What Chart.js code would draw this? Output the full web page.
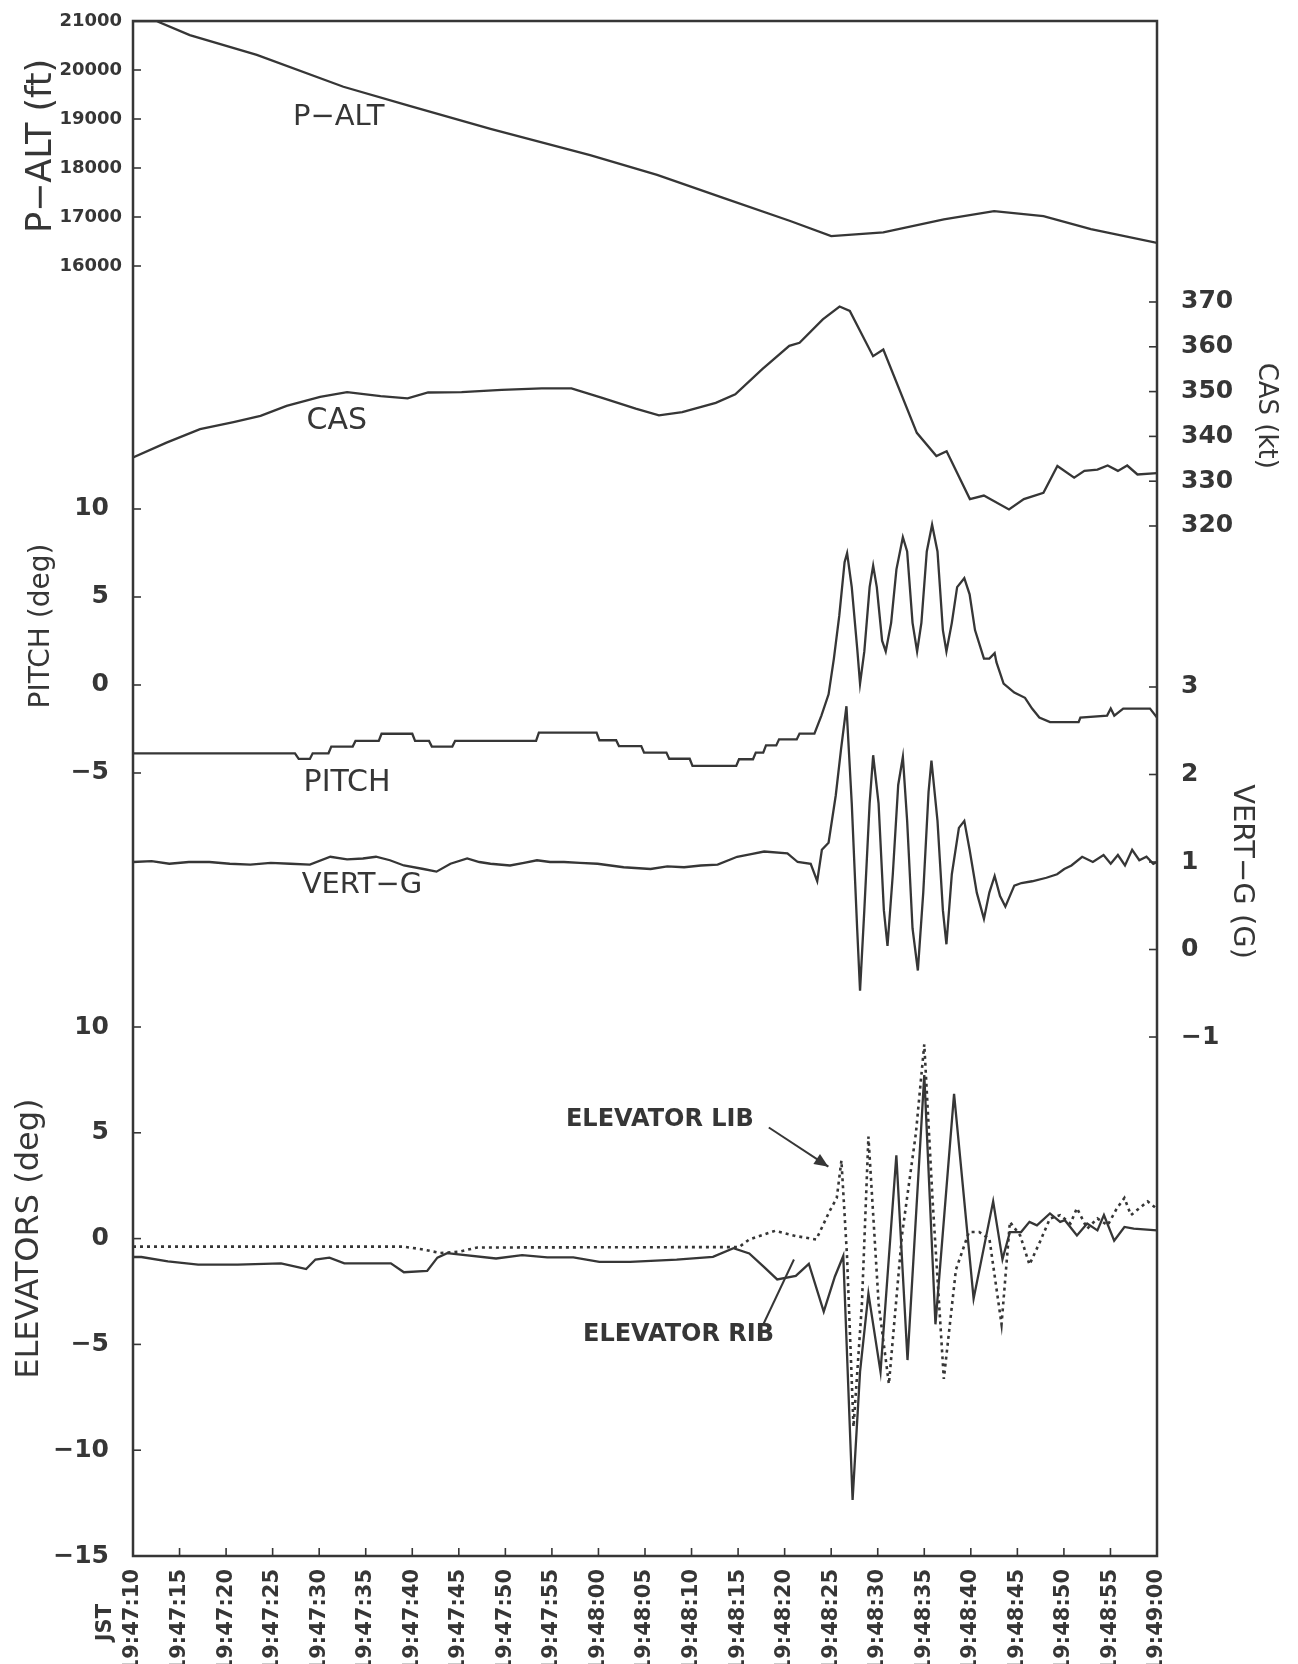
<!DOCTYPE html>
<html>
<head>
<meta charset="utf-8">
<script src="https://cdn.jsdelivr.net/npm/chart.js@4.4.1/dist/chart.umd.min.js"></script>
<style>
  html, body { margin: 0; padding: 0; background: #fff; }
  canvas { display: block; }
</style>
</head>
<body>
<canvas id="c" width="1298" height="1664"></canvas>
<script>
// ---------- DATA (seconds after 19:47:10) ----------
const timeTicks = [0,5,10,15,20,25,30,35,40,45,50,55,60,65,70,75,80,85,90,95,100,105,110];
const timeLabels = ['19:47:10','19:47:15','19:47:20','19:47:25','19:47:30','19:47:35','19:47:40','19:47:45','19:47:50','19:47:55','19:48:00','19:48:05','19:48:10','19:48:15','19:48:20','19:48:25','19:48:30','19:48:35','19:48:40','19:48:45','19:48:50','19:48:55','19:49:00'];

const altTicks = [16000,17000,18000,19000,20000,21000];
const casTicks = [320,330,340,350,360,370];
const pitchTicks = [-5,0,5,10];
const gTicks = [-1,0,1,2,3];
const elevTicks = [-15,-10,-5,0,5,10];

const altT = [0,2.5,6.1,13.3,22.6,29.7,38.4,49.1,56.3,63.4,70.6,75.0,80.6,87.1,92.5,97.8,102.9,110];
const altV = [21000,21000,20711,20309,19658,19268,18799,18262,17859,17389,16919,16610,16685,16953,17120,17020,16752,16470];

const casT = [0,3.6,7.2,10.8,13.7,16.5,20.1,23.0,26.6,29.5,31.7,35.3,39.6,43.9,47.1,50.4,54.0,56.5,59.0,62.6,64.7,67.6,70.5,71.6,74.1,75.9,77.0,79.5,80.6,84.2,86.3,87.4,89.9,91.4,94.1,95.7,97.8,99.3,101.1,102.2,103.6,104.7,105.8,106.8,107.9,110];
const casV = [335.3,338.6,341.6,343.2,344.6,346.8,348.8,349.9,349.0,348.5,349.8,349.9,350.4,350.7,350.7,348.6,346.2,344.7,345.4,347.5,349.4,355.0,360.2,360.9,366.1,369.0,368.0,357.9,359.4,340.8,335.6,336.7,326.0,326.8,323.7,326.0,327.4,333.4,330.8,332.3,332.6,333.5,332.3,333.5,331.5,331.8];

const pitchT = [0,17.4,17.8,19.0,19.3,21.0,21.3,23.6,23.9,26.4,26.7,30.0,30.3,31.8,32.1,34.3,34.6,43.3,43.6,49.8,50.1,51.9,52.2,54.6,54.9,57.3,57.6,59.8,60.1,64.8,65.1,66.6,66.9,67.7,68.0,69.1,69.4,71.3,71.6,73.2,73.95,74.72,75.29,75.87,76.44,76.71,77.21,77.79,78.10,78.56,79.13,79.51,79.90,80.47,80.86,81.44,82.01,82.70,83.16,83.74,84.23,84.69,85.27,85.84,86.42,87.00,87.38,87.96,88.53,89.30,89.87,90.45,91.41,91.99,92.56,92.75,93.52,94.67,95.82,96.58,97.36,98.51,101.58,101.77,104.64,105.03,105.41,106.37,109.25,110];
const pitchV = [-3.88,-3.88,-4.2,-4.2,-3.88,-3.88,-3.5,-3.5,-3.18,-3.18,-2.77,-2.77,-3.18,-3.18,-3.5,-3.5,-3.18,-3.18,-2.71,-2.71,-3.14,-3.14,-3.47,-3.47,-3.84,-3.84,-4.19,-4.19,-4.6,-4.6,-4.22,-4.22,-3.84,-3.84,-3.43,-3.43,-3.09,-3.09,-2.76,-2.76,-1.74,-0.53,1.5,3.94,6.98,7.49,5.56,2.11,0.08,1.91,5.56,6.78,5.56,2.52,1.91,3.53,6.57,8.4,7.59,3.53,1.91,3.53,7.59,9.11,7.59,3.12,1.91,3.53,5.56,6.07,5.15,3.12,1.5,1.5,1.81,1.3,0.08,-0.43,-0.73,-1.34,-1.85,-2.11,-2.11,-1.85,-1.74,-1.34,-1.74,-1.34,-1.34,-1.85];

const gT = [0,2.0,3.9,6.0,8.2,10.4,12.6,14.8,16.9,19.0,21.2,23.0,24.7,26.1,27.6,29.1,31.2,32.6,34.1,35.9,37.2,38.4,40.5,42.0,43.4,44.8,46.3,48.0,49.9,52.7,55.6,57.4,59.2,61.0,62.8,64.9,66.4,67.8,70.3,71.4,72.8,73.5,74.0,74.72,75.49,76.06,76.64,77.21,77.79,78.10,78.56,79.13,79.51,80.09,80.66,81.05,81.62,82.20,82.70,83.16,83.74,84.31,84.89,85.46,85.77,86.42,87.00,87.38,87.96,88.72,89.30,89.87,90.64,91.41,91.99,92.56,93.14,93.71,94.67,95.44,96.58,98.12,99.27,100.04,100.81,101.96,103.11,104.26,105.03,105.80,106.56,107.33,108.1,108.87,109.6,110];
const gV = [1.0,1.01,0.98,1.0,1.0,0.98,0.97,0.99,0.98,0.97,1.06,1.03,1.04,1.06,1.02,0.96,0.92,0.89,0.98,1.04,1.0,0.98,0.96,0.99,1.02,1.0,1.0,0.99,0.98,0.94,0.92,0.95,0.94,0.96,0.97,1.06,1.09,1.12,1.10,1.0,0.98,0.78,1.14,1.22,1.76,2.29,2.78,1.67,0.24,-0.47,0.45,1.67,2.22,1.67,0.45,0.04,0.86,1.88,2.20,1.47,0.24,-0.24,0.65,1.80,2.16,1.47,0.45,0.06,0.86,1.39,1.47,1.14,0.65,0.35,0.65,0.84,0.61,0.49,0.73,0.76,0.78,0.82,0.86,0.92,0.96,1.06,1.00,1.08,0.98,1.08,0.96,1.14,1.02,1.06,0.98,1.0];

const ribT = [0,0.9,3.75,7,11.25,15.9,17.7,18.6,19.6,21.1,22.7,27.7,29.1,31.6,32.7,33.75,39.0,41.8,44.5,47.3,50.1,53.4,58.4,62.3,64.5,66.2,67.8,69.2,71.2,72.6,74.2,75.4,76.3,77.3,78.1,79.0,80.3,82.0,83.2,85.0,86.2,88.2,90.3,92.4,93.4,94.2,95.4,96.3,97.1,98.5,99.6,100.1,101.4,102.5,103.6,104.3,105.4,106.5,107.5,110];
const ribV = [-0.87,-0.87,-1.08,-1.23,-1.23,-1.17,-1.35,-1.44,-0.99,-0.9,-1.17,-1.17,-1.59,-1.53,-0.9,-0.69,-0.94,-0.78,-0.89,-0.89,-1.1,-1.1,-0.99,-0.86,-0.45,-0.70,-1.35,-1.93,-1.76,-1.19,-3.45,-1.79,-0.82,-12.35,-6.3,-2.6,-6.3,3.94,-5.74,7.73,-4.05,6.84,-2.84,1.76,-0.98,0.31,0.31,0.79,0.63,1.19,0.79,0.87,0.15,0.71,0.39,1.11,-0.10,0.55,0.47,0.39];

const libT = [0,29,31,33,35,37,65.1,66.2,69.0,71.2,73.4,74.8,75.6,76.1,76.7,77.4,78.3,79.0,80.1,81.2,82.6,84.1,85.0,85.9,87.1,88.4,89.8,90.9,92.0,93.3,94.2,95.3,96.3,97.4,98.5,99.6,100.7,101.4,102.5,103.6,104.7,105.7,106.5,107.2,109.0,110];
const libV = [-0.38,-0.38,-0.5,-0.68,-0.62,-0.42,-0.4,-0.04,0.37,0.12,-0.04,1.27,1.92,3.69,-0.82,-8.9,-3.1,4.82,-3.1,-6.87,0.15,4.98,9.18,1.76,-6.63,-1.47,0.31,0.31,-0.02,-4.05,0.79,0.15,-1.23,-0.18,0.95,1.11,0.71,1.44,0.47,0.95,0.63,1.44,1.92,1.11,1.76,1.4];

// ---------- STYLE / LAYOUT ----------
const INK = '#363636';
const FAM = '"DejaVu Sans", "Liberation Sans", Arial, sans-serif';
const pts = (ts, vs) => ts.map((t, i) => ({ x: t, y: vs[i] }));
const fmt = v => String(v).replace('-', '\u2212');

function zeroFit(s) {
  if (s.isHorizontal()) { s.height = 0; } else { s.width = 0; }
  s.paddingTop = 0; s.paddingBottom = 0; s.paddingLeft = 0; s.paddingRight = 0;
}

function yScale(pos, min, max, tickVals, size, pad) {
  return {
    type: 'linear', position: pos, min: min, max: max,
    afterBuildTicks: s => { s.ticks = tickVals.map(v => ({ value: v })); },
    afterFit: zeroFit,
    grid: { display: false, drawTicks: false },
    border: { display: false },
    ticks: { padding: pad, color: INK, font: { family: FAM, size: size, weight: 'bold' }, callback: v => fmt(v) }
  };
}

const line = (data, axis, extra) => Object.assign({
  data: data, yAxisID: axis, borderColor: INK, borderWidth: 2.3,
  pointRadius: 0, tension: 0, fill: false
}, extra || {});

// annotations in data coordinates
const seriesLabels = [
  { text: 'P\u2212ALT', axis: 'yAlt', t: 22.1, v: 19040, size: 29, weight: 'normal' },
  { text: 'CAS', axis: 'yCas', t: 21.9, v: 343.4, size: 30, weight: 'normal' },
  { text: 'PITCH', axis: 'yPitch', t: 23.0, v: -5.57, size: 30, weight: 'normal' },
  { text: 'VERT\u2212G', axis: 'yG', t: 24.6, v: 0.73, size: 29, weight: 'normal' },
  { text: 'ELEVATOR LIB', axis: 'yElev', t: 56.6, v: 5.62, size: 24, weight: 'bold' },
  { text: 'ELEVATOR RIB', axis: 'yElev', t: 58.6, v: -4.54, size: 24, weight: 'bold' }
];
const leaders = [
  { axis: 'yElev', t1: 68.3, v1: 5.25, t2: 74.7, v2: 3.4, arrow: true },
  { axis: 'yElev', t1: 67.7, v1: -4.06, t2: 71.0, v2: -0.99, arrow: false }
];
const axisTitles = [
  { text: 'P\u2212ALT (ft)', axis: 'yAlt', v: 18450, dx: -91, side: 'left', size: 35 },
  { text: 'PITCH (deg)', axis: 'yPitch', v: 3.35, dx: -91, side: 'left', size: 28 },
  { text: 'ELEVATORS (deg)', axis: 'yElev', v: 0, dx: -103, side: 'left', size: 32 },
  { text: 'CAS (kt)', axis: 'yCas', v: 344.6, dx: 109, side: 'right', size: 26 },
  { text: 'VERT\u2212G (G)', axis: 'yG', v: 0.89, dx: 85, side: 'right', size: 29 }
];

const overlay = {
  id: 'overlay',
  afterLayout(chart) {
    // give every axis a full-size box so its labels are not clipped away
    const a = chart.chartArea;
    Object.values(chart.scales).forEach(sc => {
      if (sc.isHorizontal()) { sc.top = a.bottom; sc.bottom = chart.height; }
      else if (sc.position === 'left') { sc.left = 0; sc.right = a.left; }
      else { sc.left = a.right; sc.right = chart.width; }
    });
  },
  afterDraw(chart) {
    const { ctx, chartArea: a, scales: s } = chart;
    ctx.save();
    ctx.strokeStyle = INK;
    ctx.fillStyle = INK;
    ctx.lineWidth = 2.5;
    ctx.strokeRect(a.left, a.top, a.right - a.left, a.bottom - a.top);
    ctx.lineWidth = 1.6;
    const tickMarks = (sc, side) => sc.ticks.forEach(t => {
      const y = sc.getPixelForValue(t.value);
      ctx.beginPath();
      if (side === 'left') { ctx.moveTo(a.left, y); ctx.lineTo(a.left + 8, y); }
      else { ctx.moveTo(a.right, y); ctx.lineTo(a.right - 8, y); }
      ctx.stroke();
    });
    tickMarks(s.yAlt, 'left'); tickMarks(s.yPitch, 'left'); tickMarks(s.yElev, 'left');
    tickMarks(s.yCas, 'right'); tickMarks(s.yG, 'right');
    s.x.ticks.forEach(t => {
      const x = s.x.getPixelForValue(t.value);
      ctx.beginPath(); ctx.moveTo(x, a.bottom); ctx.lineTo(x, a.bottom - 8); ctx.stroke();
    });

    const text = (str, x, y, ang, size, align, weight) => {
      ctx.save();
      ctx.translate(x, y); ctx.rotate(ang);
      ctx.font = (weight || 'normal') + ' ' + size + 'px ' + FAM;
      ctx.textAlign = align || 'center'; ctx.textBaseline = 'middle';
      ctx.fillText(str, 0, 0);
      ctx.restore();
    };
    axisTitles.forEach(o => {
      const y = s[o.axis].getPixelForValue(o.v);
      const x = (o.side === 'left' ? a.left : a.right) + o.dx;
      text(o.text, x, y, o.side === 'left' ? -Math.PI / 2 : Math.PI / 2, o.size);
    });
    seriesLabels.forEach(o => {
      text(o.text, s.x.getPixelForValue(o.t), s[o.axis].getPixelForValue(o.v), 0, o.size, 'center', o.weight);
    });
    text('JST', a.left - 27, a.bottom + 48, -Math.PI / 2, 21, 'right', 'bold');

    ctx.lineWidth = 2;
    leaders.forEach(o => {
      const x1 = s.x.getPixelForValue(o.t1), y1 = s[o.axis].getPixelForValue(o.v1);
      const x2 = s.x.getPixelForValue(o.t2), y2 = s[o.axis].getPixelForValue(o.v2);
      ctx.beginPath(); ctx.moveTo(x1, y1); ctx.lineTo(x2, y2); ctx.stroke();
      if (o.arrow) {
        const ang = Math.atan2(y2 - y1, x2 - x1), L = 14, W = 6;
        ctx.beginPath();
        ctx.moveTo(x2, y2);
        ctx.lineTo(x2 - L * Math.cos(ang) + W * Math.sin(ang), y2 - L * Math.sin(ang) - W * Math.cos(ang));
        ctx.lineTo(x2 - L * Math.cos(ang) - W * Math.sin(ang), y2 - L * Math.sin(ang) + W * Math.cos(ang));
        ctx.closePath(); ctx.fill();
      }
    });
    ctx.restore();
  }
};

new Chart(document.getElementById('c'), {
  type: 'line',
  data: {
    datasets: [
      line(pts(altT, altV), 'yAlt'),
      line(pts(casT, casV), 'yCas'),
      line(pts(pitchT, pitchV), 'yPitch'),
      line(pts(gT, gV), 'yG'),
      line(pts(ribT, ribV), 'yElev'),
      line(pts(libT, libV), 'yElev', { borderDash: [3, 4], borderWidth: 2.6 })
    ]
  },
  options: {
    responsive: false, animation: false, devicePixelRatio: 1,
    layout: { autoPadding: false, padding: { left: 133, right: 141, top: 21, bottom: 108 } },
    plugins: { legend: { display: false }, tooltip: { enabled: false } },
    scales: {
      x: {
        type: 'linear', min: 0, max: 110,
        afterBuildTicks: s => { s.ticks = timeTicks.map(v => ({ value: v })); },
        afterFit: zeroFit,
        grid: { display: false, drawTicks: false },
        border: { display: false },
        ticks: { autoSkip: false, minRotation: 90, maxRotation: 90, padding: 13, color: INK,
                 font: { family: FAM, size: 21, weight: 'bold' },
                 callback: (v, i) => timeLabels[i] }
      },
      yAlt: yScale('left', -10326.5, 21000, altTicks, 18, 11),
      yPitch: yScale('left', -49.489, 37.727, pitchTicks, 25, 24),
      yElev: yScale('left', -15, 57.543, elevTicks, 25, 24),
      yCas: yScale('right', 90.09, 432.72, casTicks, 25, 24),
      yG: yScale('right', -6.931, 10.611, gTicks, 25, 24)
    }
  },
  plugins: [overlay]
});
</script>
</body>
</html>
